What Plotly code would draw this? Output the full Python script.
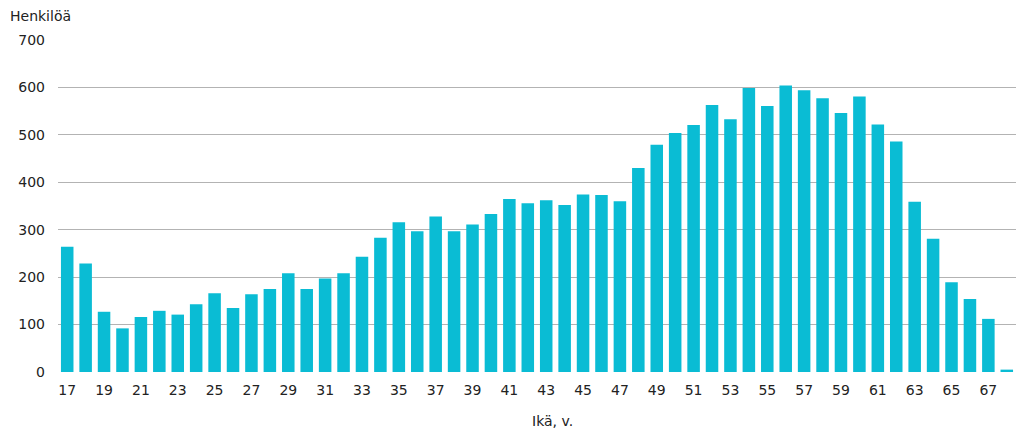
import plotly.graph_objects as go

ages = list(range(17, 69))
henkiloa = [
    264, 229, 127, 92, 116, 129, 121, 143, 166, 135,
    164, 175, 208, 175, 197, 208, 243, 283, 316, 297,
    328, 297, 311, 333, 365, 356, 362, 352, 374, 373,
    360, 430, 479, 504, 521, 563, 533, 599, 561, 604,
    594, 577, 546, 581, 522, 486, 359, 281, 189, 154,
    112, 5
]
y_ticks = [0, 100, 200, 300, 400, 500, 600, 700]

FONT = "DejaVu Sans, Verdana, sans-serif"

fig = go.Figure()
fig.add_trace(go.Bar(
    x=ages, y=henkiloa,
    marker=dict(color="#0abcd4", line_width=0),
    hovertemplate="Ikä %{x}: %{y}<extra></extra>"
))

# page body has an 8px margin, so the figure is a bit smaller
fig.add_annotation(x=0, xref="paper", xanchor="left", xshift=-50,
    y=1, yref="paper", yanchor="middle", yshift=24,
    text="Henkilöä", showarrow=False,
    font=dict(family=FONT, size=14, color="#222222"))
fig.add_annotation(x=0.516, xref="paper", y=0, yref="paper",
    yanchor="middle", yshift=-49, text="Ikä, v.", showarrow=False,
    font=dict(family=FONT, size=14, color="#222222"))

fig.update_layout(
    width=1016, height=429,
    margin=dict(l=50, r=8, t=32, b=65),
    plot_bgcolor="white", paper_bgcolor="white",
    bargap=0.32,
    showlegend=False,
    font=dict(family=FONT, size=14, color="#222222"),
    xaxis=dict(range=[16.5, 68.5], tickmode="array",
        tickvals=ages[::2], ticktext=[str(a) for a in ages[::2]],
        showgrid=False, zeroline=False, showline=False,
        ticks="", ticklabelstandoff=8),
    yaxis=dict(range=[0, 700], tickvals=y_ticks,
        gridcolor="#b3b3b3", gridwidth=1, zeroline=False,
        showline=False, ticks="", ticklabelstandoff=12)
)

fig.write_html("out.html")
